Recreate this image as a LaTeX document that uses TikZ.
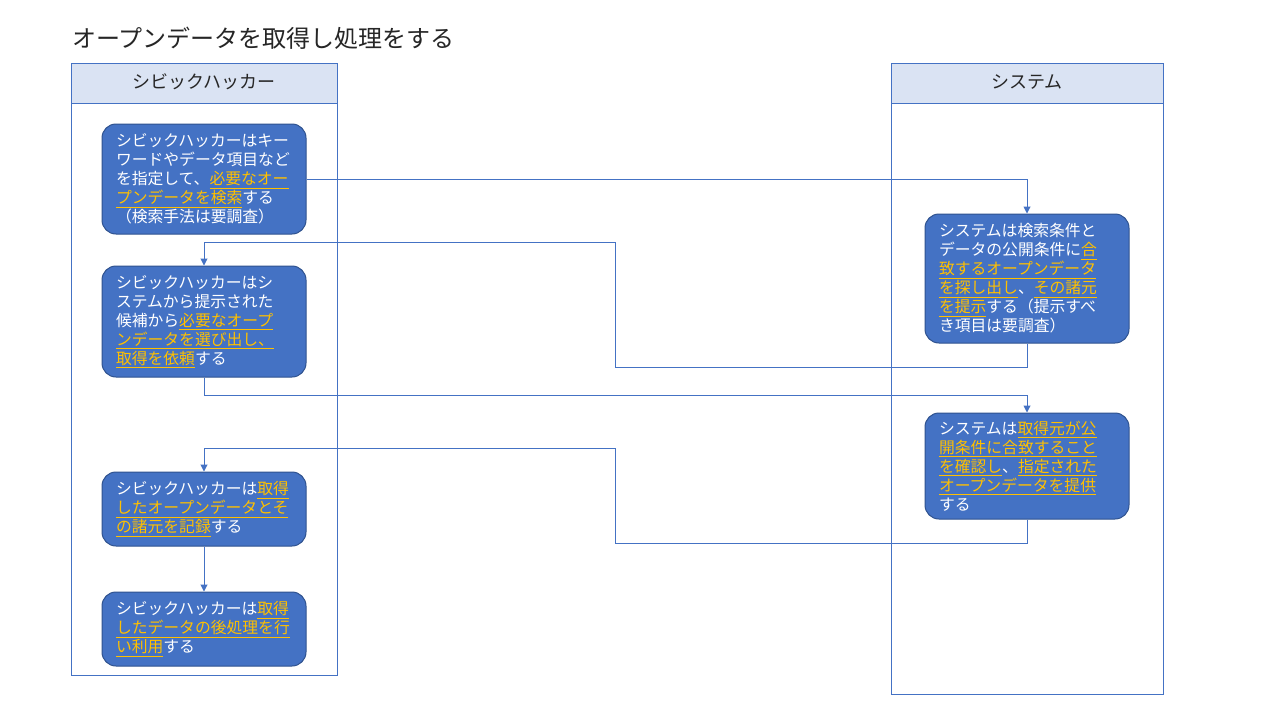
\documentclass[tikz,border=0pt]{standalone}
\usepackage{fontspec}
\setmainfont{Noto Sans CJK JP}
\usetikzlibrary{arrows.meta}
\definecolor{boxfill}{HTML}{4472C4}
\definecolor{boxline}{HTML}{2F528F}
\definecolor{hl}{HTML}{FFC000}
\definecolor{hdrfill}{HTML}{DAE3F3}
\definecolor{lanecol}{HTML}{4472C4}
\definecolor{txtdark}{HTML}{262626}
\newsavebox\hlbox
\newcommand\hlt[1]{\leavevmode{\color{hl}\sbox\hlbox{#1}\rlap{\rule[-4pt]{\wd\hlbox}{1pt}}\usebox\hlbox}}
\tikzset{
  proc/.style={draw=boxline, line width=1pt, fill=boxfill, rounded corners=14pt,
    text=white, inner xsep=14pt, inner ysep=0pt, text width=176pt, align=left,
    font=\fontsize{15.8}{19}\selectfont},
  lane/.style={draw=lanecol, line width=1pt},
  hdr/.style={draw=lanecol, line width=1pt, fill=hdrfill},
  hdrtext/.style={text=txtdark, font=\fontsize{18}{20}\selectfont},
  conn/.style={draw=lanecol, line width=1pt, -{Triangle[length=7pt,width=7pt]}},
}
\begin{document}
\begin{tikzpicture}[x=1pt,y=-1pt]
\useasboundingbox (0,0) rectangle (1280,720);
\fill[white] (0,0) rectangle (1280,720);
% title
\node[anchor=west, inner sep=0pt, text=txtdark, font=\fontsize{24}{26}\selectfont] (title) at (72,38) {オープンデータを取得し処理をする};
% lanes
\draw[lane] (71,63) rectangle (337,675);
\draw[hdr] (71,63) rectangle (337,103);
\node[hdrtext] (h1) at (204,82) {シビックハッカー};
\draw[lane] (891,63) rectangle (1163,694);
\draw[hdr] (891,63) rectangle (1163,103);
\node[hdrtext] (h2) at (1027,82) {システム};
% coordinates for connectors
\coordinate (m1) at (615,367);
\coordinate (m2) at (615,242);
\coordinate (m3) at (204,395);
\coordinate (m4) at (615,543);
\coordinate (m5) at (615,448);
% boxes
\node[proc, minimum height=110pt] (b1) at (204,179) {シビックハッカーはキー\\ワードやデータ項目など\\を指定して、\hlt{必要なオー}\\\hlt{プンデータを検索}する\\（検索手法は要調査）};
\node[proc, minimum height=111pt] (b2) at (204,321.5) {シビックハッカーはシ\\ステムから提示された\\候補から\hlt{必要なオープ}\\\hlt{ンデータを選び出し、}\\\hlt{取得を依頼}する};
\node[proc, minimum height=129pt] (b3) at (1027,278.5) {システムは検索条件と\\データの公開条件に\hlt{合}\\\hlt{致するオープンデータ}\\\hlt{を探し出し}、\hlt{その諸元}\\\hlt{を提示}する（提示すべ\\き項目は要調査）};
\node[proc, minimum height=106pt] (b4) at (1027,466) {システムは\hlt{取得元が公}\\\hlt{開条件に合致すること}\\\hlt{を確認し}、\hlt{指定された}\\\hlt{オープンデータを提供}\\する};
\node[proc, minimum height=74pt] (b5) at (204,509) {シビックハッカーは\hlt{取得}\\\hlt{したオープンデータとそ}\\\hlt{の諸元を記録}する};
\node[proc, minimum height=74pt] (b6) at (204,629) {シビックハッカーは\hlt{取得}\\\hlt{したデータの後処理を行}\\\hlt{い利用}する};
% connectors
\draw[conn] (b1.east) -| (b3.north);
\draw[conn] (b3.south) |- (m1) -- (m2) -| (b2.north);
\draw[conn] (b2.south) -- (m3) -| (b4.north);
\draw[conn] (b4.south) |- (m4) -- (m5) -| (b5.north);
\draw[conn] (b5.south) -- (b6.north);
\end{tikzpicture}
\end{document}
